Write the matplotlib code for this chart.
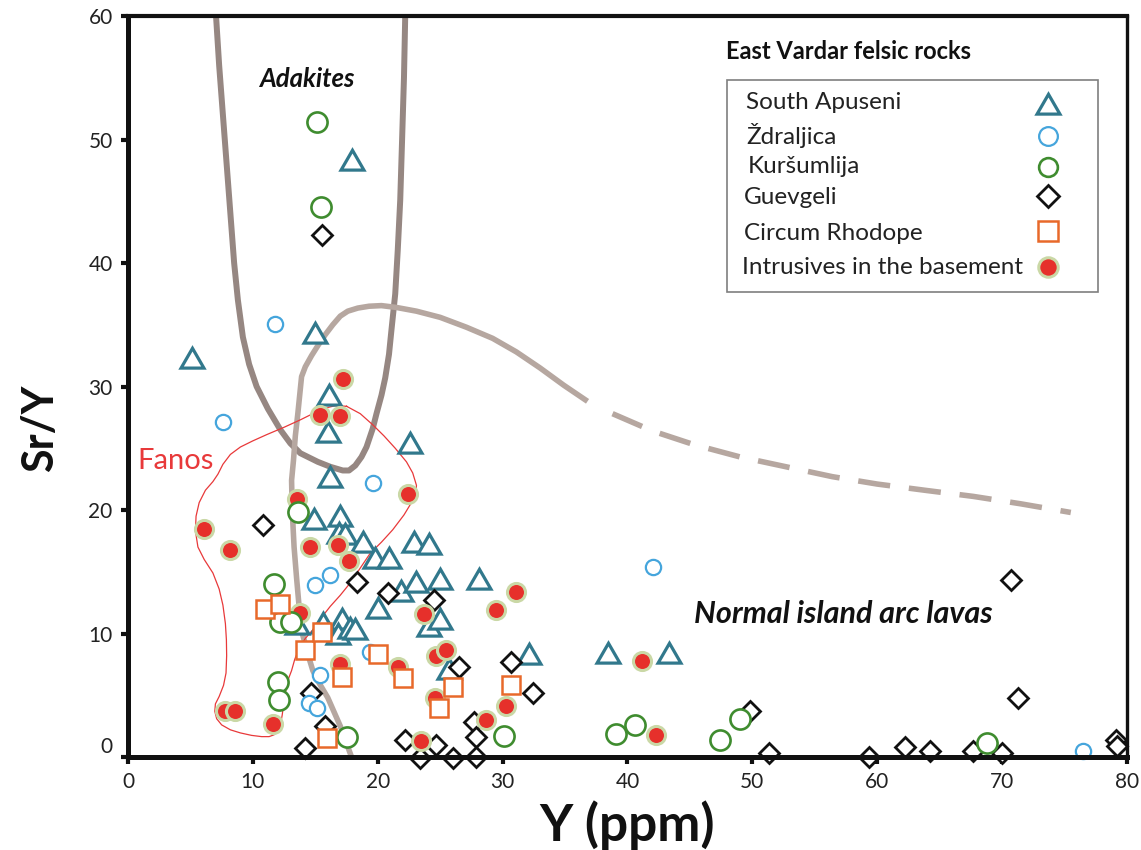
import matplotlib
matplotlib.use("Agg")
import matplotlib.pyplot as plt
from matplotlib.patches import Rectangle
import matplotlib.transforms as mtransforms

plt.rcParams['font.family'] = ['Lato', 'DejaVu Sans']

# ---------------- data ----------------
apuseni_x = [5.1, 15.0, 17.96, 16.1, 16.0, 22.6, 16.2, 14.9, 17.0, 16.9, 17.4, 18.85, 19.8, 20.9,
             22.9, 24.1, 20.05, 21.9, 23.1, 25.0, 28.1, 24.1, 25.0, 25.7, 32.1, 13.5, 15.6, 17.1,
             16.8, 17.8, 18.2, 38.4, 43.3]
apuseni_y = [32.1, 34.1, 48.1, 29.1, 26.1, 25.2, 22.4, 19.0, 19.3, 17.9, 17.8, 17.2, 15.9, 15.9,
             17.2, 17.0, 11.8, 13.2, 13.9, 14.2, 14.2, 10.35, 10.9, 6.85, 8.1, 10.5, 10.6, 10.9,
             9.7, 10.2, 10.1, 8.2, 8.2]

zdraljica_x = [11.8, 7.6, 19.65, 14.97, 16.2, 19.4, 15.4, 14.5, 15.1, 42.06, 76.5]
zdraljica_y = [35.1, 27.1, 22.2, 13.9, 14.7, 8.5, 6.6, 4.4, 4.0, 15.4, 0.5]

kursumlija_x = [15.1, 15.45, 13.6, 11.7, 12.2, 13.05, 12.0, 12.1, 17.5, 30.1, 39.1, 40.6, 47.4, 49.0, 68.8]
kursumlija_y = [51.4, 44.5, 19.8, 14.0, 10.9, 10.9, 6.05, 4.6, 1.6, 1.7, 1.9, 2.6, 1.4, 3.1, 1.1]

guevgeli_x = [15.5, 10.8, 18.3, 20.8, 24.5, 26.5, 30.7, 32.4, 14.65, 15.8, 14.2, 22.2, 23.4, 24.7,
              26.0, 27.7, 27.9, 27.9, 49.8, 51.3, 59.3, 62.2, 64.2, 67.7, 70.0, 70.7, 71.3, 79.1, 79.2]
guevgeli_y = [42.3, 18.8, 14.2, 13.25, 12.7, 7.3, 7.7, 5.2, 5.2, 2.5, 0.7, 1.4, -0.1, 1.0,
              -0.1, 2.8, 1.6, 0.0, 3.7, 0.35, 0.0, 0.8, 0.5, 0.5, 0.35, 14.3, 4.75, 1.35, 0.9]

rhodope_x = [11.0, 12.2, 14.2, 15.5, 17.1, 20.05, 22.0, 26.0, 24.9, 30.7, 15.9]
rhodope_y = [12.0, 12.4, 8.7, 10.1, 6.5, 8.3, 6.4, 5.7, 4.0, 5.8, 1.5]

intrusive_x = [17.2, 15.4, 17.0, 22.4, 13.5, 6.1, 8.2, 14.6, 16.8, 17.7, 13.8, 17.0, 21.6, 23.7,
               24.7, 25.5, 24.6, 23.5, 28.7, 30.3, 29.5, 31.1, 7.75, 8.6, 11.6, 41.2, 42.3]
intrusive_y = [30.6, 27.7, 27.6, 21.3, 20.9, 18.5, 16.8, 17.0, 17.2, 15.9, 11.7, 7.5, 7.3, 11.6,
               8.2, 8.7, 4.8, 1.3, 2.96, 4.1, 11.9, 13.4, 3.7, 3.7, 2.7, 7.8, 1.75]

adakite_x = [7.05, 7.3, 7.6, 7.9, 8.2, 8.5, 8.8, 9.2, 9.7, 10.3, 11.2, 12.2, 13.0, 13.8, 15.2,
             16.2, 17.2, 17.7, 18.2, 18.7, 19.1, 19.6, 19.9, 20.3, 20.6, 20.9, 21.1, 21.4, 21.6,
             21.8, 21.95, 22.1, 22.2]
adakite_y = [60, 56, 52, 48, 44, 40, 37, 34, 31.8, 30.0, 28.2, 26.5, 25.4, 24.6, 23.9,
             23.5, 23.2, 23.2, 23.6, 24.3, 25.1, 26.6, 27.8, 29.3, 30.7, 32.6, 34.6, 37.5, 41,
             45.1, 50, 55, 60]

arc_solid_x = [17.9, 17.0, 16.0, 15.3, 14.8, 14.5, 14.1, 13.8, 13.7, 13.5, 13.3, 13.15, 13.1,
               13.25, 13.4, 13.6, 13.75, 13.9, 14.2, 14.7, 15.2, 15.8, 16.4, 17.0, 17.6, 18.4,
               19.3, 20.3, 21.5, 23.1, 25.0, 27.1, 29.2, 31.1, 33.0, 34.9, 36.8]
arc_solid_y = [0.0, 2.5, 4.8, 6.0, 7.0, 8.0, 9.5, 10.55, 12.2, 14.5, 17.0, 20.0, 22.4,
               24.0, 26.0, 27.8, 29.3, 30.8, 31.6, 32.5, 33.3, 34.2, 35.0, 35.7, 36.1, 36.35,
               36.5, 36.55, 36.4, 36.1, 35.6, 34.8, 33.9, 32.8, 31.5, 30.1, 28.8]
arc_dash_x = [38.8, 42.0, 45.3, 49.0, 52.7, 56.4, 60.0, 63.8, 67.7, 71.5, 75.5]
arc_dash_y = [27.8, 26.4, 25.3, 24.3, 23.5, 22.7, 22.1, 21.6, 21.1, 20.5, 19.8]

fanos_x = [17.5, 18.6, 19.6, 20.5, 21.4, 22.3, 22.8, 23.1, 23.05, 22.7, 22.1, 21.2, 20.3, 19.4,
           18.6, 17.8, 17.0, 16.2, 15.5, 14.8, 14.2, 13.7, 13.35, 13.1, 12.8, 12.6, 12.45, 12.35,
           12.2, 12.0, 11.7, 11.3, 10.7, 9.9, 9.0, 8.2, 7.5, 7.1, 6.95, 7.0, 7.3, 7.65, 7.85,
           7.9, 7.88, 7.8, 7.6, 7.3, 6.8, 6.1, 5.6, 5.4, 5.45, 5.7, 6.2, 6.8, 7.2, 7.6, 8.2,
           9.0, 10.0, 11.1, 12.5, 13.8, 15.0, 15.8, 16.6, 17.5]
fanos_y = [28.4, 27.8, 26.9, 26.0, 25.0, 23.9, 23.0, 22.0, 21.3, 20.6, 19.6, 18.4, 17.4, 16.5,
           15.3, 14.1, 13.1, 12.2, 11.3, 10.3, 9.6, 8.8, 7.9, 7.0, 6.2, 5.2, 4.2, 3.4,
           2.6, 2.1, 1.8, 1.65, 1.65, 1.75, 1.95, 2.2, 2.6, 3.1, 3.7, 4.3, 4.9, 5.8, 6.8,
           8.2, 9.5, 10.8, 12.3, 13.6, 14.9, 16.0, 17.0, 18.3, 19.5, 20.6, 21.6, 22.3, 22.9, 23.7, 24.5,
           25.1, 25.6, 26.1, 26.7, 27.3, 27.9, 28.25, 28.45, 28.4]

legend_labels = ["South Apuseni", "Ždraljica", "Kuršumlija", "Guevgeli",
                 "Circum Rhodope", "Intrusives in the basement"]

x_ticks = [0, 10, 20, 30, 40, 50, 60, 70, 80]
y_ticks = [0, 10, 20, 30, 40, 50, 60]

# ---------------- styles ----------------
TRI = (3, 0, 0)
styles = [
    dict(marker=TRI, ms=19, mfc='white', mec='#31788c', mew=2.3),
    dict(marker='o', ms=11, mfc='white', mec='#45a5dc', mew=1.6),
    dict(marker='o', ms=14.5, mfc='white', mec='#3f8c2f', mew=1.9),
    dict(marker='D', ms=10.5, mfc='white', mec='#111111', mew=2.0),
    dict(marker='s', ms=13, mfc='white', mec='#e8692a', mew=1.8),
    dict(marker='o', ms=13, mfc='#e6302b', mec='#cad8a6', mew=2.2),
]
legend_ms = [19, 13.5, 13.5, 11, 15, 14]

fig = plt.figure(figsize=(11.41, 8.5), dpi=100)
ax = fig.add_axes([0.11218, 0.10941, 0.87555, 0.87176])
ax.set_xlim(0, 80)
ax.set_ylim(0, 60)

# boundaries
ax.plot(adakite_x, adakite_y, color='#968782', lw=4.3, zorder=1, solid_capstyle='butt',
        solid_joinstyle='round')
ax.plot(arc_solid_x, arc_solid_y, color='#b6a7a0', lw=4.0, zorder=1, solid_capstyle='butt',
        solid_joinstyle='round')
ax.plot(arc_dash_x, arc_dash_y, color='#b6a7a0', lw=4.0, zorder=1,
        linestyle=(0, (5.8, 3.4)), dash_capstyle='butt')
ax.plot(fanos_x, fanos_y, color='#e8393a', lw=0.9, zorder=1.5)

# data series (drawing order)
series = [
    (apuseni_x, apuseni_y, 0, 3),
    (guevgeli_x, guevgeli_y, 3, 4),
    (zdraljica_x, zdraljica_y, 1, 5),
    (intrusive_x, intrusive_y, 5, 6),
    (kursumlija_x, kursumlija_y, 2, 7),
    (rhodope_x, rhodope_y, 4, 8),
]
for xs, ys, si, z in series:
    ax.plot(xs, ys, linestyle='none', zorder=z, clip_on=False, **styles[si])

# texts
ax.text(14.3, 54.9, "Adakites", fontsize=18.5, fontweight='bold', fontstyle='italic',
        ha='center', va='center', color='#111111')
ax.text(57.3, 11.6, "Normal island arc lavas", fontsize=22, fontweight='bold',
        fontstyle='italic', ha='center', va='center', color='#111111')
ax.text(3.8, 24.0, "Fanos", fontsize=21, ha='center', va='center', color='#e8393a')
ax.text(57.7, 57.1, "East Vardar felsic rocks", fontsize=17, fontweight='bold',
        ha='center', va='center', color='#111111')

# manual legend
ax.add_patch(Rectangle((48.0, 37.65), 29.7, 17.15, fill=True, facecolor='white',
                       edgecolor='#7f7f7f', lw=1.2, zorder=9))
row_y = [52.96, 50.3, 47.8, 45.3, 42.35, 39.6]
lab_x = [49.5, 49.5, 49.6, 49.3, 49.3, 49.2]
mk_y = [52.6, 50.25, 47.8, 45.4, 42.6, 39.7]
for i, lab in enumerate(legend_labels):
    ax.text(lab_x[i], row_y[i], lab, fontsize=17.5, ha='left', va='center',
            color='#222222', zorder=10)
    st = dict(styles[i])
    st['ms'] = legend_ms[i]
    ax.plot([73.7], [mk_y[i]], linestyle='none', zorder=11, **st)

# axes styling
for side in ['left', 'bottom']:
    ax.spines[side].set_linewidth(3.6)
ax.spines['top'].set_linewidth(3.0)
ax.spines['right'].set_linewidth(2.4)
for s in ax.spines.values():
    s.set_color('#111111')
    s.set_zorder(12)

ax.set_xticks(x_ticks)
ax.set_yticks(y_ticks)
ax.tick_params(axis='both', direction='out', length=5, width=3, colors='#111111',
               labelsize=15, labelcolor='#222222', pad=6)

# raise the y "0" label slightly as in the reference
offset = mtransforms.ScaledTranslation(0, 12 / 100, fig.dpi_scale_trans)
for lbl in ax.get_yticklabels():
    if lbl.get_text() == '0':
        lbl.set_transform(lbl.get_transform() + offset)

ax.set_xlabel("Y (ppm)", fontsize=37, fontweight='bold', color='#111111')
ax.set_ylabel("Sr/Y", fontsize=31, fontweight='bold', color='#111111')
ax.xaxis.label.set_va('center')
ax.yaxis.label.set_va('center')
ax.xaxis.set_label_coords(0.5, -0.0925)
ax.yaxis.set_label_coords(-0.088, 0.444)

fig.savefig("out.png", dpi=100)
